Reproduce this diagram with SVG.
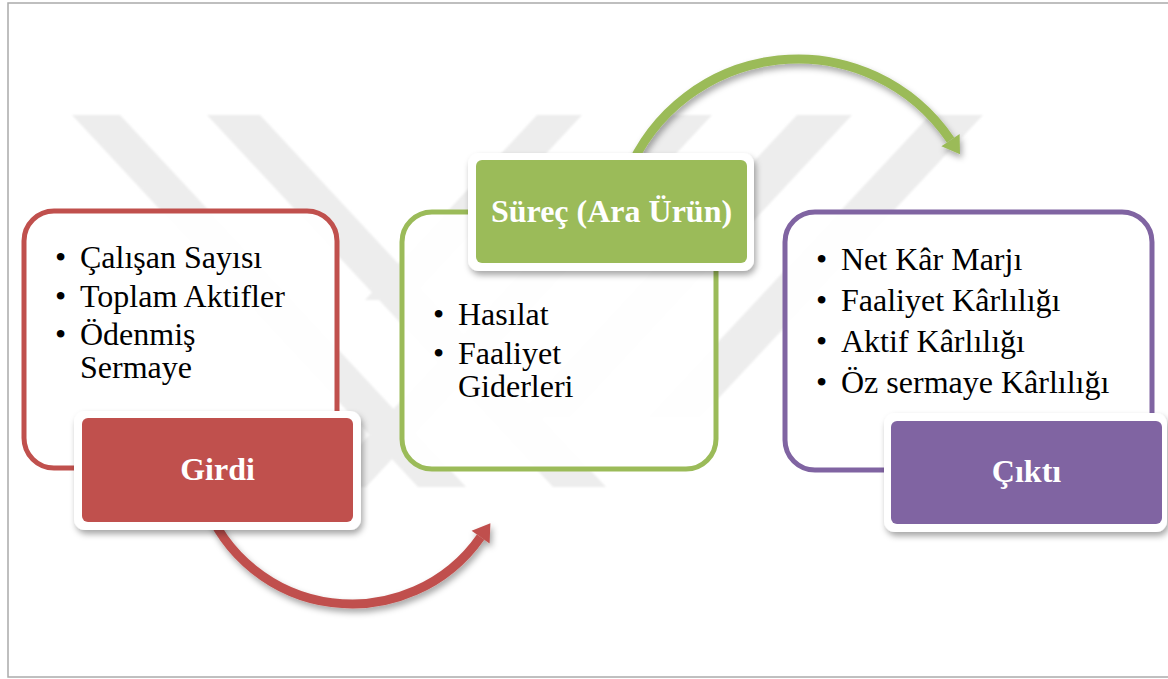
<svg xmlns="http://www.w3.org/2000/svg" width="1168" height="679" viewBox="0 0 1168 679">
  <defs>
    <style>
      .frame { fill: #ffffff; stroke: #ababab; stroke-width: 1.5; }
      .mark { fill: #ededed; }
      .panel { fill: #ffffff; fill-opacity: 0.93; stroke-width: 5; }
      .tag-outer { fill: #ffffff; }
      .list { font-family: "Liberation Serif", "Times New Roman", serif; font-size: 32px; fill: #000000; }
      .tag-text { font-family: "Liberation Serif", "Times New Roman", serif; font-size: 32px; font-weight: bold; fill: #ffffff; text-anchor: middle; }
      .arc { fill: none; stroke-width: 9; }
    </style>
    <filter id="shadow" x="-20%" y="-20%" width="140%" height="150%">
      <feDropShadow dx="2" dy="4" stdDeviation="3" flood-color="#000000" flood-opacity="0.35"/>
    </filter>
    <filter id="soft" x="-5%" y="-5%" width="110%" height="110%">
      <feGaussianBlur stdDeviation="1"/>
    </filter>
  </defs>

  <!-- page frame -->
  <rect class="frame" x="8" y="3" width="1180" height="674"/>

  <!-- background emblem -->
  <g id="emblem" class="mark" filter="url(#soft)">
    <polygon points="72,115 120,115 466,487 418,487"/>
    <polygon points="207,115 260,115 606,487 553,487"/>
    <polygon points="537,115 582,115 410,300 365,300"/>
    <polygon points="667,115 712,115 366,487 321,487"/>
    <polygon points="797,115 852,115 570,418 515,418"/>
    <polygon points="930,115 983,115 700,418 647,418"/>
  </g>

  <!-- list panels -->
  <g id="input-panel">
    <rect class="panel" x="24" y="211" width="313" height="257" rx="30" stroke="#c0504d"/>
    <text class="list" x="55" y="268">•</text><text class="list" x="80" y="268">Çalışan Sayısı</text>
    <text class="list" x="55" y="307">•</text><text class="list" x="80" y="307">Toplam Aktifler</text>
    <text class="list" x="55" y="345">•</text>
    <text class="list" x="80" y="345">Ödenmiş<tspan x="80" dy="33">Sermaye</tspan></text>
  </g>

  <g id="process-panel">
    <rect class="panel" x="402" y="212" width="314" height="257" rx="30" stroke="#9bbb59"/>
    <text class="list" x="433" y="325">•</text><text class="list" x="458" y="325">Hasılat</text>
    <text class="list" x="433" y="364">•</text>
    <text class="list" x="458" y="364">Faaliyet<tspan x="458" dy="33">Giderleri</tspan></text>
  </g>

  <g id="output-panel">
    <rect class="panel" x="785" y="212" width="367" height="258" rx="30" stroke="#8064a2"/>
    <text class="list" x="816" y="270">•</text><text class="list" x="841" y="270">Net Kâr Marjı</text>
    <text class="list" x="816" y="311">•</text><text class="list" x="841" y="311">Faaliyet Kârlılığı</text>
    <text class="list" x="816" y="352">•</text><text class="list" x="841" y="352">Aktif Kârlılığı</text>
    <text class="list" x="816" y="393">•</text><text class="list" x="841" y="393">Öz sermaye Kârlılığı</text>
  </g>

  <!-- curved connectors -->
  <g id="connectors" filter="url(#shadow)">
    <path class="arc" stroke="#c0504d" d="M 204.5 500.7 A 157 157 0 0 0 480.6 537.1"/>
    <polygon fill="#c0504d" points="490.4,523.2 489.6,543.4 471.6,530.8"/>
    <path class="arc" stroke="#9bbb59" d="M 627 175 A 184 184 0 0 1 950.5 140.1"/>
    <polygon fill="#9bbb59" points="960,154.2 959.6,134 941.4,146.3"/>
  </g>

  <!-- stage tags -->
  <g id="input-tag">
    <rect class="tag-outer" x="74" y="411" width="287" height="119" rx="11" filter="url(#shadow)"/>
    <rect x="82" y="418" width="271" height="104" rx="6" fill="#c0504d"/>
    <text class="tag-text" x="217.5" y="480">Girdi</text>
  </g>

  <g id="process-tag">
    <rect class="tag-outer" x="468" y="153" width="286" height="118" rx="11" filter="url(#shadow)"/>
    <rect x="476" y="160" width="271" height="103" rx="6" fill="#9bbb59"/>
    <text class="tag-text" x="611.5" y="222">Süreç (Ara Ürün)</text>
  </g>

  <g id="output-tag">
    <rect class="tag-outer" x="884" y="413" width="283" height="119" rx="11" filter="url(#shadow)"/>
    <rect x="891" y="421" width="271" height="103" rx="6" fill="#8064a2"/>
    <text class="tag-text" x="1026.5" y="482">Çıktı</text>
  </g>
</svg>
